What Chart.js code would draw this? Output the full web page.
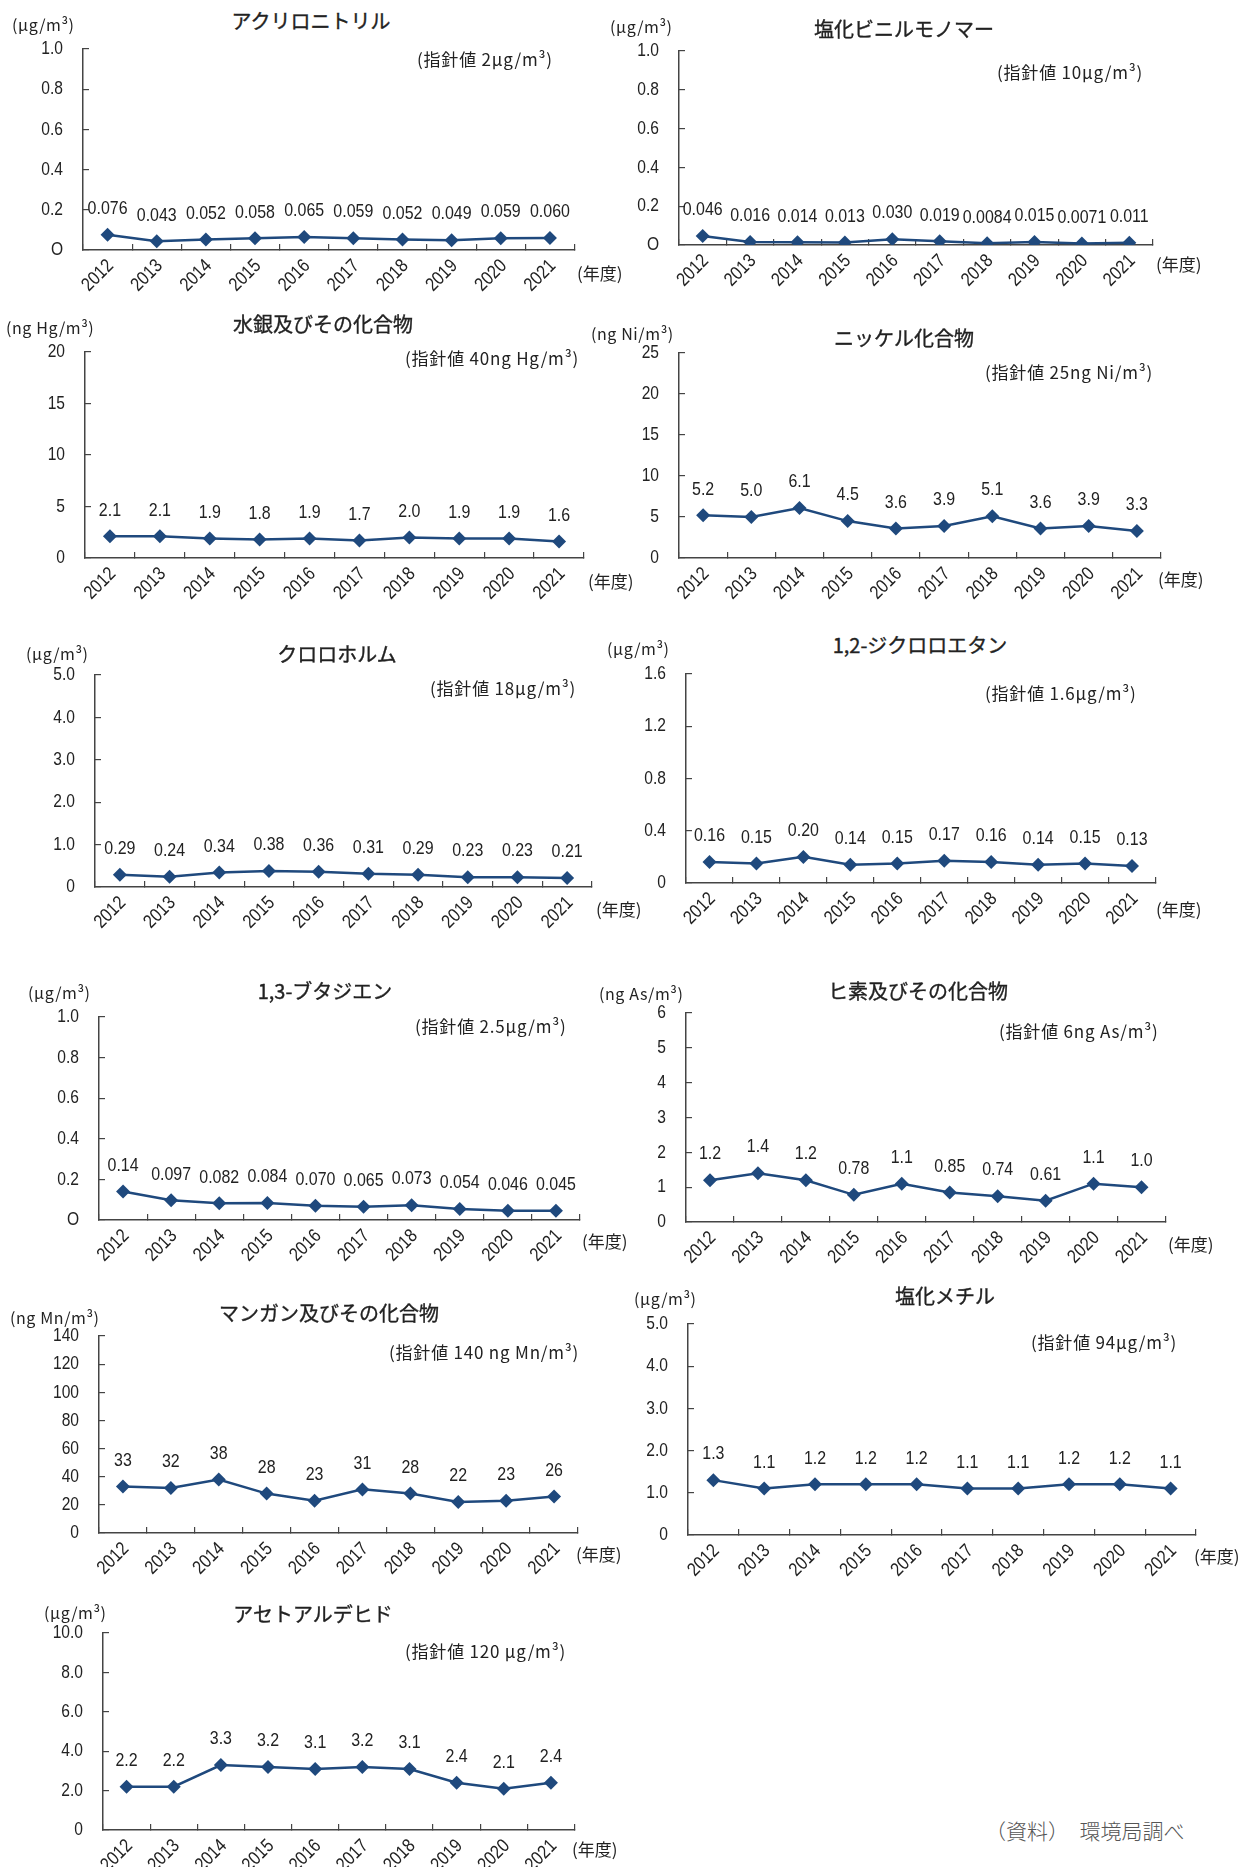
<!DOCTYPE html>
<html>
<head>
<meta charset="utf-8">
<script src="https://cdn.jsdelivr.net/npm/chart.js@4.4.1/dist/chart.umd.min.js"></script>
<style>
  body { margin: 0; background: #fff; width: 1240px; height: 1867px; position: relative; overflow: hidden; }
  .box { position: absolute; }
  .t { position: absolute; white-space: nowrap; color: #222; transform: translateY(-50%);
       font-family: "Noto Sans CJK JP", sans-serif; }
  .title { font-size: 20px; font-weight: 400; -webkit-text-stroke: 0.35px #222; transform: translate(-50%, -50%); }
  .unit { font-size: 16px; letter-spacing: 0.6px; }
  .note { font-size: 17px; letter-spacing: 0.8px; }
  .nendo { font-size: 17px; }
  .src { font-size: 21px; color: #555; font-weight: 300; }
</style>
</head>
<body>
<script>
// data
const years = ["2012", "2013", "2014", "2015", "2016", "2017", "2018", "2019", "2020", "2021"];

const acrylonitrile = [0.076, 0.043, 0.052, 0.058, 0.065, 0.059, 0.052, 0.049, 0.059, 0.060];
const vinylChloride = [0.046, 0.016, 0.014, 0.013, 0.030, 0.019, 0.0084, 0.015, 0.0071, 0.011];
const mercury = [2.1, 2.1, 1.9, 1.8, 1.9, 1.7, 2.0, 1.9, 1.9, 1.6];
const nickel = [5.2, 5.0, 6.1, 4.5, 3.6, 3.9, 5.1, 3.6, 3.9, 3.3];
const chloroform = [0.29, 0.24, 0.34, 0.38, 0.36, 0.31, 0.29, 0.23, 0.23, 0.21];
const dichloroethane = [0.16, 0.15, 0.20, 0.14, 0.15, 0.17, 0.16, 0.14, 0.15, 0.13];
const butadiene = [0.14, 0.097, 0.082, 0.084, 0.070, 0.065, 0.073, 0.054, 0.046, 0.045];
const arsenic = [1.2, 1.4, 1.2, 0.78, 1.1, 0.85, 0.74, 0.61, 1.1, 1.0];
const manganese = [33, 32, 38, 28, 23, 31, 28, 22, 23, 26];
const methylChloride = [1.3, 1.1, 1.2, 1.2, 1.2, 1.1, 1.1, 1.2, 1.2, 1.1];
const acetaldehyde = [2.2, 2.2, 3.3, 3.2, 3.1, 3.2, 3.1, 2.4, 2.1, 2.4];

// y tick labels, bottom to top
const ticksAcrylonitrile = ["O", "0.2", "0.4", "0.6", "0.8", "1.0"];
const ticksVinylChloride = ["O", "0.2", "0.4", "0.6", "0.8", "1.0"];
const ticksMercury = ["0", "5", "10", "15", "20"];
const ticksNickel = ["0", "5", "10", "15", "20", "25"];
const ticksChloroform = ["0", "1.0", "2.0", "3.0", "4.0", "5.0"];
const ticksDichloroethane = ["0", "0.4", "0.8", "1.2", "1.6"];
const ticksButadiene = ["O", "0.2", "0.4", "0.6", "0.8", "1.0"];
const ticksArsenic = ["0", "1", "2", "3", "4", "5", "6"];
const ticksManganese = ["0", "20", "40", "60", "80", "100", "120", "140"];
const ticksMethylChloride = ["0", "1.0", "2.0", "3.0", "4.0", "5.0"];
const ticksAcetaldehyde = ["0", "2.0", "4.0", "6.0", "8.0", "10.0"];

const charts = [
  { title: "アクリロニトリル", unit: "(μg/m³)", note: "(指針値 2μg/m³)", data: acrylonitrile, ticks: ticksAcrylonitrile, step: 0.2,
    pos: { x: 82.5, top: 49, zero: 250, right: 575, tx: 311, ty: 20, ux: 12, uy: 24, nx: 417, ny: 58, yx: 577, yy: 272 } },
  { title: "塩化ビニルモノマー", unit: "(μg/m³)", note: "(指針値 10μg/m³)", data: vinylChloride, ticks: ticksVinylChloride, step: 0.2,
    pos: { x: 679, top: 51, zero: 245, right: 1154, tx: 904, ty: 28, ux: 610, uy: 26, nx: 997, ny: 71, yx: 1156, yy: 263 } },
  { title: "水銀及びその化合物", unit: "(ng Hg/m³)", note: "(指針値 40ng Hg/m³)", data: mercury, ticks: ticksMercury, step: 5,
    pos: { x: 85, top: 352, zero: 558, right: 585, tx: 323, ty: 323, ux: 6, uy: 327, nx: 405, ny: 357, yx: 588, yy: 580 } },
  { title: "ニッケル化合物", unit: "(ng Ni/m³)", note: "(指針値 25ng Ni/m³)", data: nickel, ticks: ticksNickel, step: 5,
    pos: { x: 679, top: 353, zero: 558, right: 1162, tx: 904, ty: 337, ux: 591, uy: 333, nx: 985, ny: 371, yx: 1158, yy: 578 } },
  { title: "クロロホルム", unit: "(μg/m³)", note: "(指針値 18μg/m³)", data: chloroform, ticks: ticksChloroform, step: 1,
    pos: { x: 95, top: 675, zero: 887, right: 593, tx: 337, ty: 653, ux: 26, uy: 653, nx: 430, ny: 687, yx: 596, yy: 908 } },
  { title: "1,2-ジクロロエタン", unit: "(μg/m³)", note: "(指針値 1.6μg/m³)", data: dichloroethane, ticks: ticksDichloroethane, step: 0.4,
    pos: { x: 685.5, top: 674, zero: 883, right: 1156, tx: 920, ty: 644, ux: 607, uy: 648, nx: 985, ny: 692, yx: 1156, yy: 908 } },
  { title: "1,3-ブタジエン", unit: "(μg/m³)", note: "(指針値 2.5μg/m³)", data: butadiene, ticks: ticksButadiene, step: 0.2,
    pos: { x: 99, top: 1017, zero: 1220, right: 581, tx: 325, ty: 990, ux: 28, uy: 992, nx: 415, ny: 1025, yx: 582, yy: 1240 } },
  { title: "ヒ素及びその化合物", unit: "(ng As/m³)", note: "(指針値 6ng As/m³)", data: arsenic, ticks: ticksArsenic, step: 1,
    pos: { x: 685.5, top: 1013, zero: 1222, right: 1166, tx: 918, ty: 990, ux: 599, uy: 993, nx: 999, ny: 1030, yx: 1168, yy: 1243 } },
  { title: "マンガン及びその化合物", unit: "(ng Mn/m³)", note: "(指針値 140 ng Mn/m³)", data: manganese, ticks: ticksManganese, step: 20,
    pos: { x: 99, top: 1336, zero: 1533, right: 579, tx: 329, ty: 1312, ux: 10, uy: 1317, nx: 389, ny: 1351, yx: 576, yy: 1553 } },
  { title: "塩化メチル", unit: "(μg/m³)", note: "(指針値 94μg/m³)", data: methylChloride, ticks: ticksMethylChloride, step: 1,
    pos: { x: 688, top: 1324, zero: 1535, right: 1197, tx: 945, ty: 1295, ux: 634, uy: 1298, nx: 1031, ny: 1341, yx: 1194, yy: 1555 } },
  { title: "アセトアルデヒド", unit: "(μg/m³)", note: "(指針値 120 μg/m³)", data: acetaldehyde, ticks: ticksAcetaldehyde, step: 2,
    pos: { x: 102.5, top: 1633, zero: 1830, right: 575, tx: 313, ty: 1613, ux: 44, uy: 1612, nx: 405, ny: 1650, yx: 572, yy: 1848 } },
];

const NUM_FONT = '"Liberation Sans", Arial, sans-serif';
const NAVY = "#1F497D";
const AXIS = "#444";
const YW = 70, PT = 14, PR = 6, XH = 70;

// draws text squeezed horizontally, like the narrow face of the original
function narrowText(ctx, text, x, y, squeeze, angle) {
  ctx.save();
  ctx.translate(x, y);
  if (angle) ctx.rotate(angle);
  ctx.scale(squeeze, 1);
  ctx.fillText(text, 0, 0);
  ctx.restore();
}

// value labels above each point, axis labels in narrow style
const textPlugin = {
  id: "textPlugin",
  afterDraw(chart) {
    const ctx = chart.ctx;
    const meta = chart.getDatasetMeta(0);
    const values = chart.data.datasets[0].data;
    const xs = chart.scales.x, ys = chart.scales.y;
    const labels = chart.options.yLabels;
    ctx.save();
    ctx.fillStyle = "#222";
    ctx.textBaseline = "middle";

    ctx.font = "19px " + NUM_FONT;
    ctx.textAlign = "center";
    meta.data.forEach((pt, i) => {
      narrowText(ctx, values[i].toPrecision(2), pt.x, pt.y - 26, 0.84);
    });

    ctx.font = "19px " + NUM_FONT;
    ctx.textAlign = "right";
    ys.ticks.forEach((t, i) => {
      narrowText(ctx, labels[i], ys.right - 20, ys.getPixelForTick(i), 0.82);
    });

    ctx.font = "19px " + NUM_FONT;
    chart.data.labels.forEach((lab, i) => {
      narrowText(ctx, lab, xs.getPixelForTick(i) + 3, xs.top + 13, 0.85, -Math.PI / 4);
    });
    ctx.restore();
  },
};

function addText(cls, text, x, y) {
  const d = document.createElement("div");
  d.className = "t " + cls;
  d.textContent = text;
  d.style.left = x + "px";
  d.style.top = y + "px";
  document.body.appendChild(d);
}

charts.forEach((c) => {
  const p = c.pos;
  const box = document.createElement("div");
  box.className = "box";
  box.style.left = p.x - YW + "px";
  box.style.top = p.top - PT + "px";
  box.style.width = p.right - p.x + YW + PR + "px";
  box.style.height = p.zero - p.top + PT + XH + "px";
  const cv = document.createElement("canvas");
  box.appendChild(cv);
  document.body.appendChild(box);

  new Chart(cv, {
    type: "line",
    data: {
      labels: years,
      datasets: [
        {
          data: c.data,
          borderColor: NAVY,
          backgroundColor: NAVY,
          borderWidth: 2.5,
          pointStyle: "rectRot",
          pointRadius: 7,
          pointBorderWidth: 0,
          tension: 0,
        },
      ],
    },
    options: {
      responsive: true,
      maintainAspectRatio: false,
      animation: false,
      yLabels: c.ticks,
      layout: { padding: { top: PT, right: PR, left: 0, bottom: 0 } },
      plugins: { legend: { display: false }, tooltip: { enabled: false } },
      scales: {
        x: {
          offset: true,
          grid: { offset: true, drawOnChartArea: false, tickLength: -6, color: AXIS, lineWidth: 1.2 },
          border: { color: AXIS, width: 1.5 },
          ticks: { display: false },
          afterFit(s) { s.height = XH; s.paddingLeft = 0; s.paddingRight = 0; },
        },
        y: {
          min: 0,
          max: c.step * (c.ticks.length - 1),
          grid: { drawOnChartArea: false, tickLength: -6, color: AXIS, lineWidth: 1.2 },
          border: { color: AXIS, width: 1.5 },
          ticks: { stepSize: c.step, display: false },
          afterFit(s) { s.width = YW; s.paddingTop = 0; s.paddingBottom = 0; },
        },
      },
    },
    plugins: [textPlugin],
  });

  addText("title", c.title, p.tx, p.ty);
  addText("unit", c.unit, p.ux, p.uy);
  addText("note", c.note, p.nx, p.ny);
  addText("nendo", "(年度)", p.yx, p.yy);
});

addText("src", "（資料）　環境局調べ", 985, 1830);
</script>
</body>
</html>
